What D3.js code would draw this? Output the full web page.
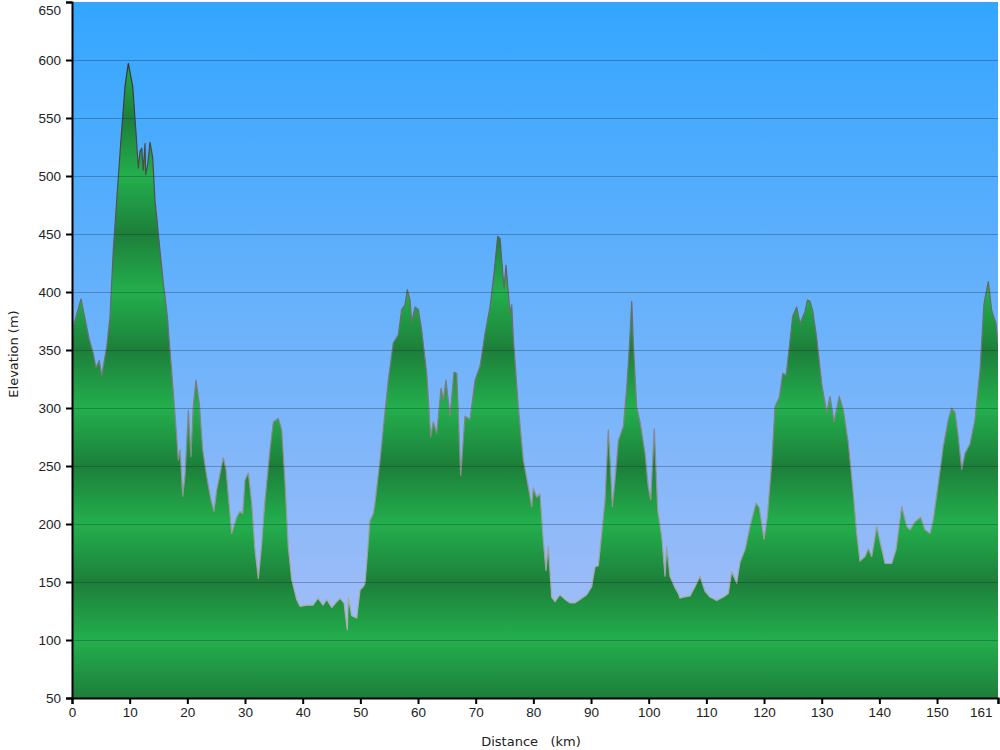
<!DOCTYPE html>
<html>
<head>
<meta charset="utf-8">
<script src="https://cdn.jsdelivr.net/npm/d3@7"></script>
<style>
  html, body { margin: 0; padding: 0; background: #ffffff; }
  svg { display: block; font-family: "DejaVu Sans", Verdana, sans-serif; }
</style>
</head>
<body>
<svg id="chart" width="1000" height="750"></svg>
<script>
// Distance along route (km)
const distanceKm = [
  0.00, 1.56, 2.95, 3.69, 4.16, 4.73, 5.15, 6.02, 6.59, 7.16, 7.75, 8.44, 9.19, 9.76,
  10.53, 11.10, 11.50, 11.79, 12.09, 12.36, 12.66, 12.78, 13.13, 13.53, 13.99, 14.39,
  15.26, 15.83, 16.53, 16.99, 17.57, 18.16, 18.43, 18.73, 19.20, 19.59, 20.17, 20.63,
  21.03, 21.50, 22.07, 22.66, 23.36, 24.05, 24.62, 25.09, 26.24, 26.70, 27.69, 28.56,
  29.13, 29.60, 30.00, 30.57, 31.16, 31.73, 32.31, 32.89, 33.47, 34.33, 34.91, 35.77,
  36.36, 36.94, 37.51, 38.10, 38.96, 39.54, 40.70, 41.79, 42.66, 43.52, 44.17, 45.03,
  45.90, 46.47, 47.17, 47.74, 47.91, 48.50, 49.37, 49.94, 50.51, 50.80, 51.10, 51.67,
  52.25, 52.54, 53.41, 54.85, 55.71, 56.58, 57.17, 57.74, 58.14, 58.61, 58.91, 59.48,
  60.05, 60.64, 61.51, 62.20, 62.66, 63.24, 63.99, 64.39, 64.85, 65.55, 66.24, 66.71,
  67.40, 68.15, 69.01, 69.88, 70.75, 71.61, 72.48, 73.18, 73.82, 74.22, 74.91, 75.26,
  75.95, 76.25, 76.52, 77.39, 78.26, 79.13, 79.72, 80.00, 80.58, 81.15, 81.62, 82.19,
  82.59, 83.18, 83.75, 84.62, 85.49, 86.35, 87.22, 88.09, 89.25, 90.12, 90.69, 91.27,
  91.85, 92.43, 93.00, 93.30, 93.70, 94.16, 94.74, 95.61, 96.19, 96.65, 97.06, 97.34,
  97.92, 98.50, 99.37, 99.93, 100.35, 100.97, 101.56, 102.26, 102.83, 103.12, 103.69,
  104.56, 105.14, 105.43, 106.00, 107.17, 108.03, 108.90, 109.77, 110.63, 111.79,
  112.94, 113.80, 114.39, 115.26, 115.83, 116.70, 117.56, 118.61, 119.18, 119.99,
  120.57, 121.33, 121.90, 122.65, 123.24, 123.81, 124.38, 124.97, 125.66, 126.24,
  127.10, 127.50, 127.97, 128.44, 129.13, 130.00, 130.87, 131.44, 132.13, 133.05,
  133.75, 134.61, 135.48, 136.07, 136.64, 137.51, 138.08, 138.67, 139.54, 140.11,
  140.98, 142.14, 142.89, 143.87, 144.74, 145.31, 146.18, 147.17, 147.91, 148.78,
  149.35, 150.22, 151.09, 151.95, 152.54, 153.11, 153.69, 154.28, 154.85, 155.71,
  156.58, 157.45, 158.14, 158.89, 159.48, 160.23, 160.57
];

// Elevation (m) at each distance
const elevationM = [
  366, 394, 360, 347, 335, 341, 328, 353, 379, 436, 479, 528, 577, 597,
  577, 537, 507, 521, 524, 505, 528, 501, 510, 529, 516, 479,
  436, 408, 379, 350, 313, 275, 255, 264, 224, 241, 298, 258,
  301, 324, 304, 264, 241, 222, 211, 229, 257, 247, 192, 206,
  211, 209, 238, 244, 218, 178, 153, 183, 221, 264, 288, 291,
  281, 235, 180, 152, 135, 129, 130, 130, 136, 130, 135, 128,
  133, 136, 132, 109, 137, 121, 119, 143, 146, 149, 166, 203,
  209, 218, 255, 324, 356, 363, 385, 389, 402, 393, 374, 387,
  385, 367, 330, 275, 288, 278, 317, 307, 324, 293, 331, 330,
  242, 293, 290, 324, 336, 364, 387, 416, 448, 446, 403, 423,
  382, 389, 361, 301, 255, 232, 215, 231, 223, 226, 192, 160,
  181, 137, 133, 139, 135, 132, 132, 135, 139, 146, 163, 164,
  192, 221, 281, 255, 215, 238, 272, 284, 318, 353, 392, 356,
  301, 288, 261, 232, 221, 282, 212, 189, 155, 181, 155,
  145, 140, 136, 137, 138, 146, 155, 142, 137, 134,
  137, 140, 159, 149, 167, 178, 198, 218, 214, 187,
  206, 253, 301, 309, 330, 328, 353, 379, 387, 373,
  383, 393, 392, 384, 361, 321, 296, 310, 288, 310,
  298, 270, 226, 192, 168, 172, 179, 172, 198, 185,
  166, 166, 178, 215, 198, 195, 202, 206, 195, 192,
  204, 235, 267, 290, 300, 296, 275, 247, 261, 269,
  290, 333, 390, 409, 384, 373, 356
];

const xTickValues = [0, 10, 20, 30, 40, 50, 60, 70, 80, 90, 100, 110, 120, 130, 140, 150, 160.57];
const xTickLabels = ["0", "10", "20", "30", "40", "50", "60", "70", "80", "90", "100", "110", "120", "130", "140", "150", "161"];
const yTickValues = [50, 100, 150, 200, 250, 300, 350, 400, 450, 500, 550, 600, 650];
const yTickLabels = ["50", "100", "150", "200", "250", "300", "350", "400", "450", "500", "550", "600", "650"];

const xTitle = "Distance   (km)";
const yTitle = "Elevation (m)";

(function () {
const data = distanceKm.map((d, i) => ({ d, e: elevationM[i] }));

const svg = d3.select("#chart");
const pLeft = 72, pRight = 998, pTop = 2, pBottom = 698;

const x = d3.scaleLinear().domain([0, 160.57]).range([pLeft, pRight]);
const y = d3.scaleLinear().domain([50, 650]).range([pBottom, pTop]);

const defs = svg.append("defs");

const sky = defs.append("linearGradient")
  .attr("id", "sky").attr("gradientUnits", "userSpaceOnUse")
  .attr("x1", 0).attr("x2", 0).attr("y1", pTop).attr("y2", pBottom);
sky.append("stop").attr("offset", "0%").attr("stop-color", "#33a6ff");
sky.append("stop").attr("offset", "50%").attr("stop-color", "#6fb3fb");
sky.append("stop").attr("offset", "100%").attr("stop-color", "#aec0f6");

const green = defs.append("linearGradient")
  .attr("id", "green").attr("gradientUnits", "userSpaceOnUse")
  .attr("spreadMethod", "reflect")
  .attr("x1", 0).attr("x2", 0).attr("y1", y(100)).attr("y2", y(50));
green.append("stop").attr("offset", "0%").attr("stop-color", "#23af4d");
green.append("stop").attr("offset", "100%").attr("stop-color", "#1d7f3a");

const outline = defs.append("linearGradient")
  .attr("id", "outline").attr("gradientUnits", "userSpaceOnUse")
  .attr("x1", 0).attr("x2", 0).attr("y1", y(600)).attr("y2", y(100));
outline.append("stop").attr("offset", "0%").attr("stop-color", "#333333");
outline.append("stop").attr("offset", "100%").attr("stop-color", "#b5b5b5");

defs.append("clipPath").attr("id", "plotClip")
  .append("rect").attr("x", pLeft).attr("y", pTop).attr("width", pRight - pLeft).attr("height", pBottom - pTop);

svg.append("rect")
  .attr("x", pLeft).attr("y", pTop)
  .attr("width", pRight - pLeft).attr("height", pBottom - pTop)
  .attr("fill", "url(#sky)");

const plot = svg.append("g").attr("clip-path", "url(#plotClip)");

const area = d3.area()
  .x(p => x(p.d))
  .y0(y(50))
  .y1(p => y(p.e));

const line = d3.line()
  .x(p => x(p.d))
  .y(p => y(p.e));

plot.append("path")
  .datum(data)
  .attr("d", area)
  .attr("fill", "url(#green)");

plot.append("path")
  .datum(data)
  .attr("d", line)
  .attr("fill", "none")
  .attr("stroke", "url(#outline)")
  .attr("stroke-width", 1.2)
  .attr("stroke-linejoin", "round");

plot.append("g")
  .selectAll("line")
  .data(yTickValues.filter(v => v > 50 && v < 650))
  .join("line")
  .attr("x1", pLeft).attr("x2", pRight)
  .attr("y1", v => Math.round(y(v)) + 0.5).attr("y2", v => Math.round(y(v)) + 0.5)
  .attr("stroke", "rgba(20,30,50,0.3)")
  .attr("stroke-width", 1.2);

const yAxis = d3.axisLeft(y)
  .tickValues(yTickValues)
  .tickFormat((v, i) => yTickLabels[i])
  .tickSize(6)
  .tickPadding(5);

const xAxis = d3.axisBottom(x)
  .tickValues(xTickValues)
  .tickFormat((v, i) => xTickLabels[i])
  .tickSize(6)
  .tickPadding(3);

const gy = svg.append("g")
  .attr("transform", `translate(${pLeft},0)`)
  .call(yAxis);
gy.select(".domain").attr("stroke", "#000").attr("stroke-width", 2);
gy.selectAll(".tick line").attr("stroke", "#000").attr("stroke-width", 2);
gy.selectAll(".tick text")
  .attr("fill", "#222")
  .style("font-size", "13.5px")
  .attr("dy", (v) => v === 650 ? "0.95em" : "0.35em");

const gx = svg.append("g")
  .attr("transform", `translate(0,${pBottom})`)
  .call(xAxis);
gx.select(".domain").attr("stroke", "#000").attr("stroke-width", 2);
gx.selectAll(".tick line").attr("stroke", "#000").attr("stroke-width", 2);
gx.selectAll(".tick text")
  .attr("fill", "#222")
  .style("font-size", "13.5px");
// last label sits inside the right edge
gx.selectAll(".tick text")
  .filter((v, i) => i === xTickValues.length - 1)
  .attr("text-anchor", "end")
  .attr("x", -6);

svg.append("text")
  .attr("x", 531).attr("y", 746)
  .attr("text-anchor", "middle")
  .attr("fill", "#222")
  .style("font-size", "13px")
  .style("white-space", "pre")
  .attr("xml:space", "preserve")
  .text(xTitle);

svg.append("text")
  .attr("transform", "translate(18,354) rotate(-90)")
  .attr("text-anchor", "middle")
  .attr("fill", "#222")
  .style("font-size", "13px")
  .text(yTitle);
})();
</script>
</body>
</html>
